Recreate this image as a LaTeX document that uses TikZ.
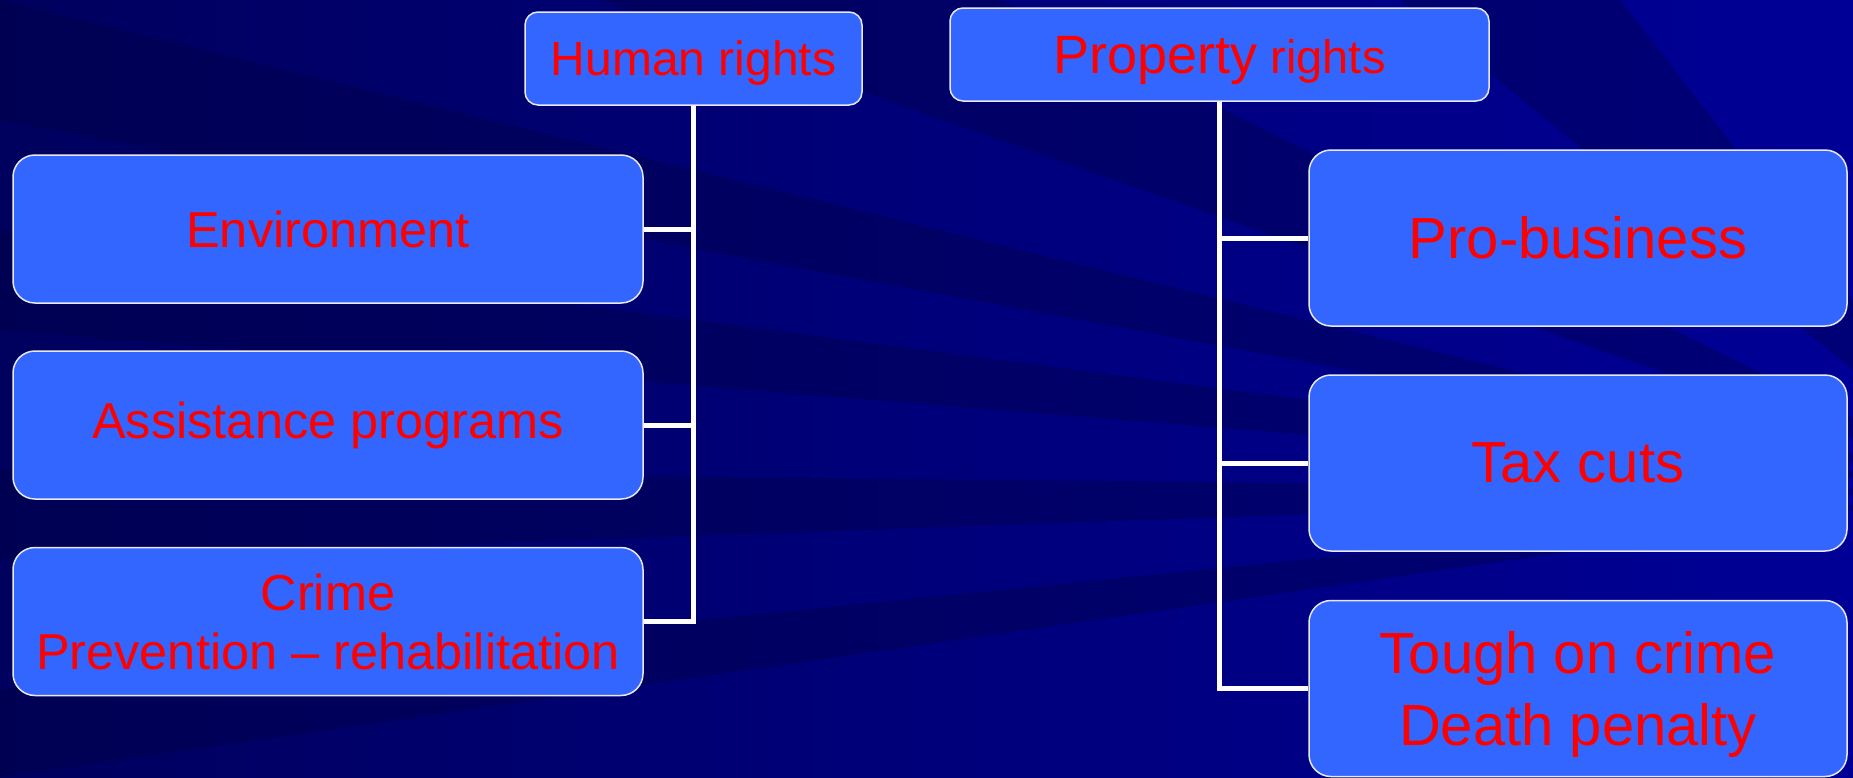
\documentclass[tikz,border=0pt]{standalone}
\usepackage{fontspec}
\setmainfont{Liberation Sans}
\definecolor{bgdark}{HTML}{00005E}
\definecolor{bglight}{HTML}{000096}
\definecolor{streak}{HTML}{000040}
\definecolor{boxblue}{HTML}{3366FF}
\definecolor{boxrim}{HTML}{E8E8F6}

\begin{document}
\begin{tikzpicture}[
    x=1pt, y=-1pt,
    box/.style={rectangle, draw=boxrim, line width=1.5pt, fill=boxblue, rounded corners=22pt, text=red, align=center, inner sep=0pt},
    head/.style={box, rounded corners=13pt, minimum height=93pt, text depth=0pt},
    leftbox/.style={box, minimum width=630pt, minimum height=148pt, font=\fontsize{50.5}{59}\selectfont},
    rightbox/.style={box, minimum width=538pt, minimum height=176pt, font=\fontsize{58}{72}\selectfont},
    link/.style={draw=white, line width=5pt},
]
\useasboundingbox (0,0) rectangle (1853,777);

% Background
\shade[left color=bgdark, right color=bglight] (0,0) rectangle (1853,777);
\begin{scope}[fill=streak, opacity=0.35]
  \fill (2000,490) -- (0,0) -- (0,120) -- cycle;
  \fill (2000,490) -- (0,230) -- (0,330) -- cycle;
  \fill (2000,490) -- (0,470) -- (0,560) -- cycle;
  \fill (2000,490) -- (0,690) -- (0,777) -- cycle;
  \fill (2000,490) -- (600,0) -- (1000,0) -- cycle;
  \fill (2000,490) -- (1400,0) -- (1620,0) -- cycle;
\end{scope}

% Headings
\node[head, minimum width=337pt, font=\fontsize{48}{56}\selectfont] (hum) at (693.5,58.5) {Human rights};
\node[head, minimum width=539pt, font=\fontsize{47}{56}\selectfont] (prop) at (1219.5,54.5) {{\fontsize{54}{60}\selectfont Property} rights};

% Left column
\node[leftbox] (env) at (328,229) {Environment};
\node[leftbox] (assist) at (328,425) {Assistance programs};
\node[leftbox] (crime) at (328,621.5) {Crime\\Prevention -- rehabilitation};

% Right column
\node[rightbox] (biz) at (1578,238) {Pro-business};
\node[rightbox] (tax) at (1578,463) {Tax cuts};
\node[rightbox, text depth=0pt] (tough) at (1578,688.5) {Tough on crime\\Death penalty};

% Connectors
\draw[link] (hum.south) |- (env.east);
\draw[link] (hum.south) |- (assist.east);
\draw[link] (hum.south) |- (crime.east);
\draw[link] (prop.south) |- (biz.west);
\draw[link] (prop.south) |- (tax.west);
\draw[link] (prop.south) |- (tough.west);

\end{tikzpicture}
\end{document}
